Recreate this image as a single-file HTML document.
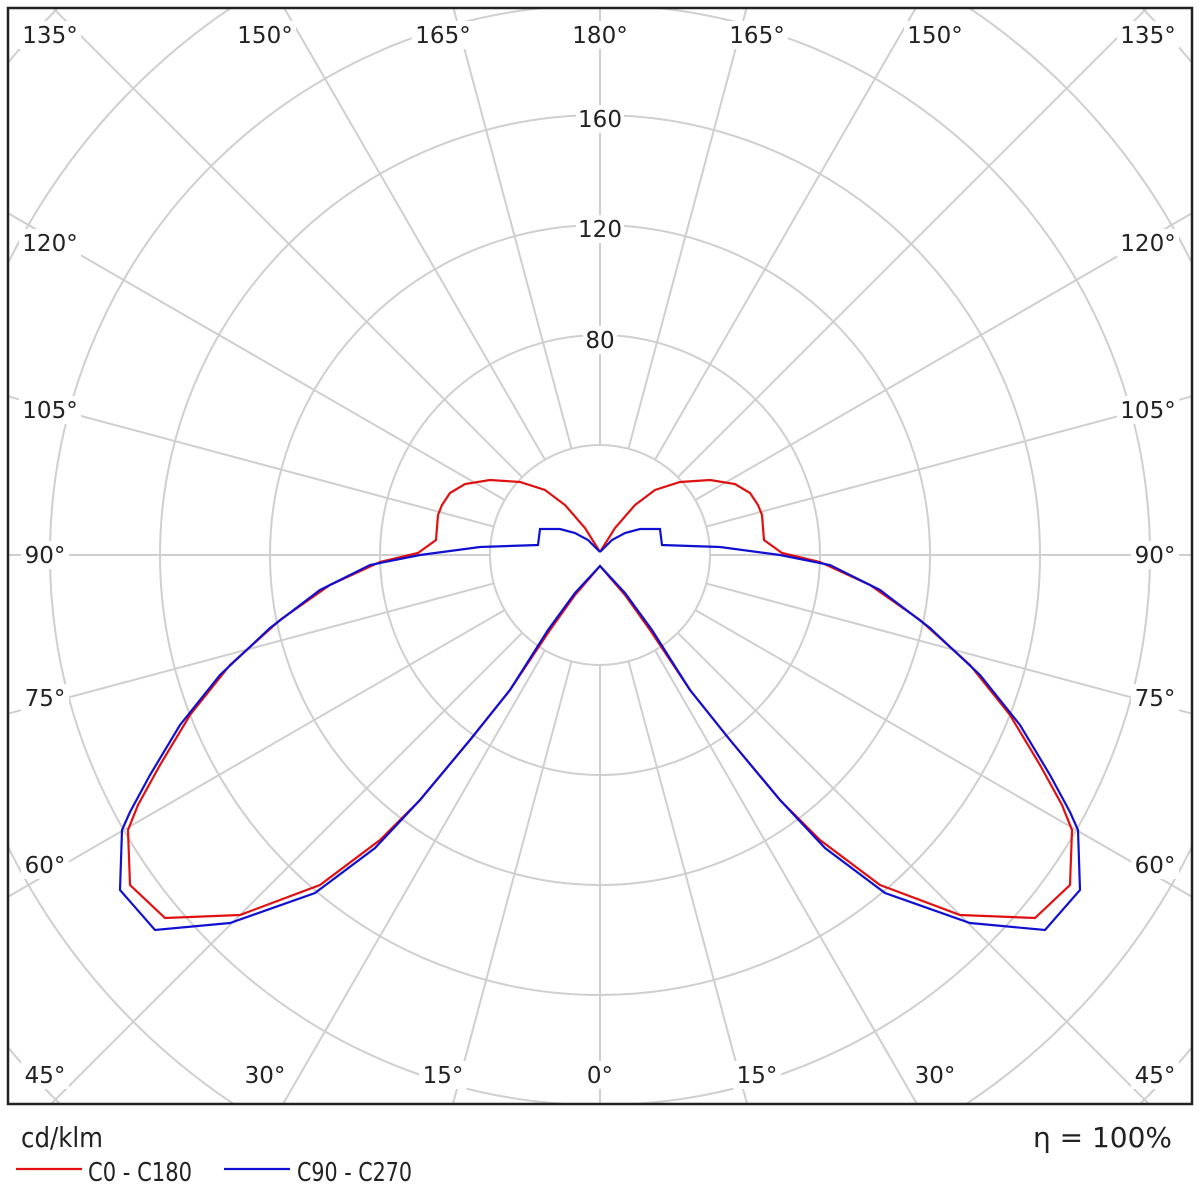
<!DOCTYPE html>
<html><head><style>html,body{margin:0;background:#fff;overflow:hidden;width:1200px;height:1200px}svg{display:block}</style></head><body>
<svg width="1200" height="1200" xmlns="http://www.w3.org/2000/svg" font-family="'DejaVu Sans','Liberation Sans',sans-serif">
<defs><clipPath id="c"><rect x="8" y="8" width="1184" height="1096"/></clipPath></defs>
<g clip-path="url(#c)" stroke="#cfcfcf" stroke-width="2" fill="none">
<circle cx="600" cy="555" r="110"/><circle cx="600" cy="555" r="220"/><circle cx="600" cy="555" r="330"/><circle cx="600" cy="555" r="440"/><circle cx="600" cy="555" r="550"/><circle cx="600" cy="555" r="660"/><circle cx="600" cy="555" r="770"/>
<g id="rad"></g>
</g>
<g id="lbl" font-size="23" fill="#222" text-anchor="middle"></g>
<rect x="8" y="8" width="1184" height="1096" fill="none" stroke="#222" stroke-width="2.5"/>
<polyline fill="none" stroke="#e01010" stroke-width="2.2" points="600,552 585,528 565,505 545,490 520,482 490,480 465,484 450,493 442,505 438,515 436,540 418,553 380,562 330,585 280,620 230,665 190,715 160,765 138,805 128,830 130,885 165,918 240,915 320,885 380,840 420,800 470,740 510,690 550,630 575,595 600,566 625,595 650,630 690,690 730,740 780,800 820,840 880,885 960,915 1035,918 1070,885 1072,830 1062,805 1040,765 1010,715 970,665 920,620 870,585 820,562 782,553 764,540 762,515 758,505 750,493 735,484 710,480 680,482 655,490 635,505 615,528 600,552"/>
<polyline fill="none" stroke="#1010d0" stroke-width="2.2" points="600,552 588,540 575,533 560,529 540,529 538,545 480,547 420,555 370,565 320,590 270,628 220,675 180,725 150,775 130,812 122,830 120,890 155,930 230,923 315,893 375,848 420,800 470,740 510,690 548,630 575,593 600,566 625,593 652,630 690,690 730,740 780,800 825,848 885,893 970,923 1045,930 1080,890 1078,830 1070,812 1050,775 1020,725 980,675 930,628 880,590 830,565 780,555 720,547 662,545 660,529 640,529 625,533 612,540 600,552"/>
<text x="21" y="1147" font-size="28" fill="#222" textLength="82" lengthAdjust="spacingAndGlyphs">cd/klm</text>
<line x1="16" y1="1169" x2="82" y2="1169" stroke="#e01010" stroke-width="2.2"/>
<text x="88" y="1181" font-size="26" fill="#222" textLength="104" lengthAdjust="spacingAndGlyphs">C0 - C180</text>
<line x1="224" y1="1169" x2="290" y2="1169" stroke="#1010d0" stroke-width="2.2"/>
<text x="297" y="1181" font-size="26" fill="#222" textLength="115" lengthAdjust="spacingAndGlyphs">C90 - C270</text>
<text x="1172" y="1147" font-size="28" fill="#222" text-anchor="end">η = 100%</text>
</svg>
<script>
var ns="http://www.w3.org/2000/svg",g=document.getElementById("rad");
for(var a=0;a<360;a+=15){var t=a*Math.PI/180,l=document.createElementNS(ns,"line");
l.setAttribute("x1",600+110*Math.sin(t));l.setAttribute("y1",555+110*Math.cos(t));
l.setAttribute("x2",600+1200*Math.sin(t));l.setAttribute("y2",555+1200*Math.cos(t));g.appendChild(l);}
var L=[["135°",50,35],["150°",265,35],["165°",443,35],["180°",600,35],["165°",757,35],["150°",935,35],["135°",1148,35],
["120°",50,243],["105°",50,410],["90°",45,555],["75°",45,698],["60°",45,865],["45°",45,1075],
["120°",1148,243],["105°",1148,410],["90°",1155,555],["75°",1155,698],["60°",1155,865],["45°",1155,1075],
["30°",265,1075],["15°",443,1075],["0°",600,1075],["15°",757,1075],["30°",935,1075],
["160",600,119],["120",600,229],["80",600,340]];
var lg=document.getElementById("lbl");
L.forEach(function(d){var w=d[0].length*14+6;var r=document.createElementNS(ns,"rect");
r.setAttribute("x",d[1]-w/2);r.setAttribute("y",d[2]-14);r.setAttribute("width",w);r.setAttribute("height",28);r.setAttribute("fill","#fff");lg.appendChild(r);
var t=document.createElementNS(ns,"text");t.setAttribute("x",d[1]);t.setAttribute("y",d[2]+8);t.textContent=d[0];lg.appendChild(t);});
</script>
</body></html>
